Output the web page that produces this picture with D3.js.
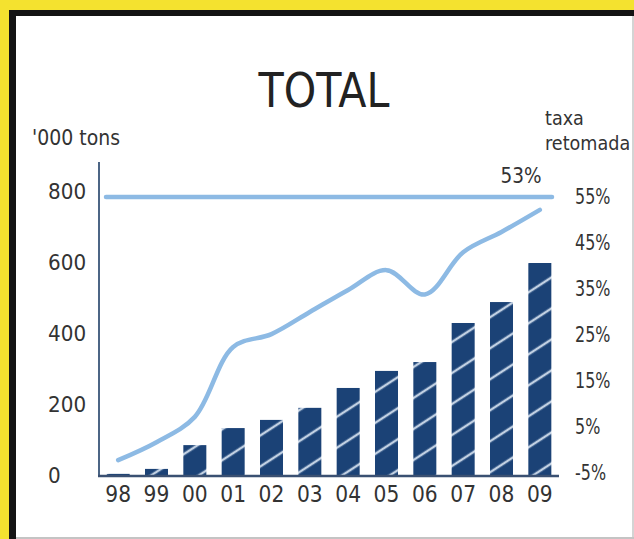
<!DOCTYPE html>
<html>
<head>
<meta charset="utf-8">
<script src="https://cdn.jsdelivr.net/npm/d3@7"></script>
<style>
  html, body { margin: 0; padding: 0; background: #f3e230; }
  svg { display: block; }
  text { font-family: 'DejaVu Sans', 'Liberation Sans', sans-serif; fill: #333; }
</style>
</head>
<body>
<svg id="chart" width="634" height="539"></svg>
<script>
// ---- data ----
const years = ["98","99","00","01","02","03","04","05","06","07","08","09"];
const tons = [6, 20, 87, 135, 158, 192, 248, 296, 321, 431, 490, 600];          // '000 tons
const rate = [-2.2, 1.7, 7.2, 22.4, 25.2, 30, 34.8, 39.1, 33.8, 43, 47.4, 52.2]; // taxa retomada %
const leftTicks = [0, 200, 400, 600, 800];
const rightTicks = [-5, 5, 15, 25, 35, 45, 55];
const targetRate = 55;
const endLabel = "53%";
const title = "TOTAL";

const svg = d3.select("#chart");

// horizontally condensed text helper (no condensed font installed)
function condensed(sel, x, y, sx) {
  return sel.attr("x", x / sx).attr("y", y).attr("transform", `scale(${sx},1)`);
}

// ---- frame ----
svg.append("rect").attr("x", 0).attr("y", 0).attr("width", 634).attr("height", 539).attr("fill", "#f4e22f");
svg.append("rect").attr("x", 9).attr("y", 10).attr("width", 625).attr("height", 529).attr("fill", "#141414");
svg.append("rect").attr("x", 16).attr("y", 16).attr("width", 616).attr("height", 521).attr("fill", "#ffffff");
svg.append("rect").attr("x", 632).attr("y", 16).attr("width", 2).attr("height", 523).attr("fill", "#d4d4d4");
svg.append("rect").attr("x", 16).attr("y", 537).attr("width", 618).attr("height", 2).attr("fill", "#c4c4c4");

// ---- scales ----
const x = d3.scaleBand().domain(years).range([99, 559]).paddingInner(0.4).paddingOuter(0.2);
const yL = d3.scaleLinear().domain([0, 800]).range([476, 192]);
const yR = d3.scaleLinear().domain([-5, 55]).range([473, 197]);

// ---- hatch pattern ----
const defs = svg.append("defs");
const pat = defs.append("pattern")
  .attr("id", "hatch").attr("patternUnits", "userSpaceOnUse")
  .attr("width", 60).attr("height", 26)
  .attr("patternTransform", "rotate(-33)");
pat.append("rect").attr("width", 60).attr("height", 26).attr("fill", "#1b4276");
pat.append("line").attr("x1", 0).attr("x2", 60).attr("y1", 13).attr("y2", 13)
  .attr("stroke", "#dfeaf6").attr("stroke-width", 2.4).attr("stroke-opacity", 0.85);

// ---- title ----
condensed(svg.append("text"), 324, 107, 0.86).attr("text-anchor", "middle")
  .style("font-size", "48px").style("fill", "#222").text(title);

// ---- unit labels ----
condensed(svg.append("text"), 32, 145, 0.9).style("font-size", "21px").text("'000 tons");
condensed(svg.append("text"), 545, 125, 0.88).style("font-size", "20px").text("taxa");
condensed(svg.append("text"), 545, 150, 0.88).style("font-size", "20px").text("retomada");

// ---- bars ----
svg.append("g").selectAll("rect").data(years).join("rect")
  .attr("x", d => x(d))
  .attr("width", x.bandwidth())
  .attr("y", (d, i) => yL(tons[i]))
  .attr("height", (d, i) => yL(0) - yL(tons[i]))
  .attr("fill", "url(#hatch)");

// ---- axes ----
const sxL = 0.95;
const gL = svg.append("g").attr("transform", "translate(99,0)")
  .call(d3.axisLeft(yL).tickValues(leftTicks).tickSize(0).tickFormat(d3.format("d")));
gL.select(".domain").remove();
gL.selectAll("text").attr("x", -51 / sxL).attr("transform", `scale(${sxL},1)`).attr("text-anchor", "start")
  .style("font-size", "21px").style("font-family", null).attr("fill", "#444");

const gR = svg.append("g").attr("transform", "translate(575,0)")
  .call(d3.axisRight(yR).tickValues(rightTicks).tickSize(0).tickPadding(0).tickFormat(d => d + "%"));
gR.select(".domain").remove();
gR.selectAll("text").attr("text-anchor", "start").attr("transform", "scale(0.76,1)")
  .style("font-size", "21px").style("font-family", null).attr("fill", "#444");

const gX = svg.append("g").attr("transform", "translate(0,476)")
  .call(d3.axisBottom(x).tickSize(0));
gX.select(".domain").remove();
gX.selectAll("text").attr("y", 18).attr("dy", "0.36em").attr("transform", "scale(0.88,1)")
  .attr("x", 0)
  .style("font-size", "23px").style("font-family", null).attr("fill", "#444");

// axis lines
svg.append("line").attr("x1", 99).attr("x2", 99).attr("y1", 162).attr("y2", 477)
  .attr("stroke", "#4c6585").attr("stroke-width", 2);
svg.append("line").attr("x1", 98).attr("x2", 559).attr("y1", yL(0)).attr("y2", yL(0))
  .attr("stroke", "#3a5072").attr("stroke-width", 2.5);

// ---- target line ----
svg.append("line").attr("x1", 106).attr("x2", 552).attr("y1", yR(targetRate)).attr("y2", yR(targetRate))
  .attr("stroke", "#8dbae4").attr("stroke-width", 4.5).attr("stroke-linecap", "round");

// ---- rate line ----
const line = d3.line()
  .x((d, i) => x(years[i]) + x.bandwidth() / 2)
  .y(d => yR(d))
  .curve(d3.curveCatmullRom.alpha(0.5));
svg.append("path").datum(rate).attr("d", line)
  .attr("fill", "none").attr("stroke", "#8dbae4").attr("stroke-width", 4.5).attr("stroke-linecap", "round");

condensed(svg.append("text"), 521, 183, 0.88).attr("text-anchor", "middle")
  .style("font-size", "21px").attr("fill", "#333").text(endLabel);
</script>
</body>
</html>
